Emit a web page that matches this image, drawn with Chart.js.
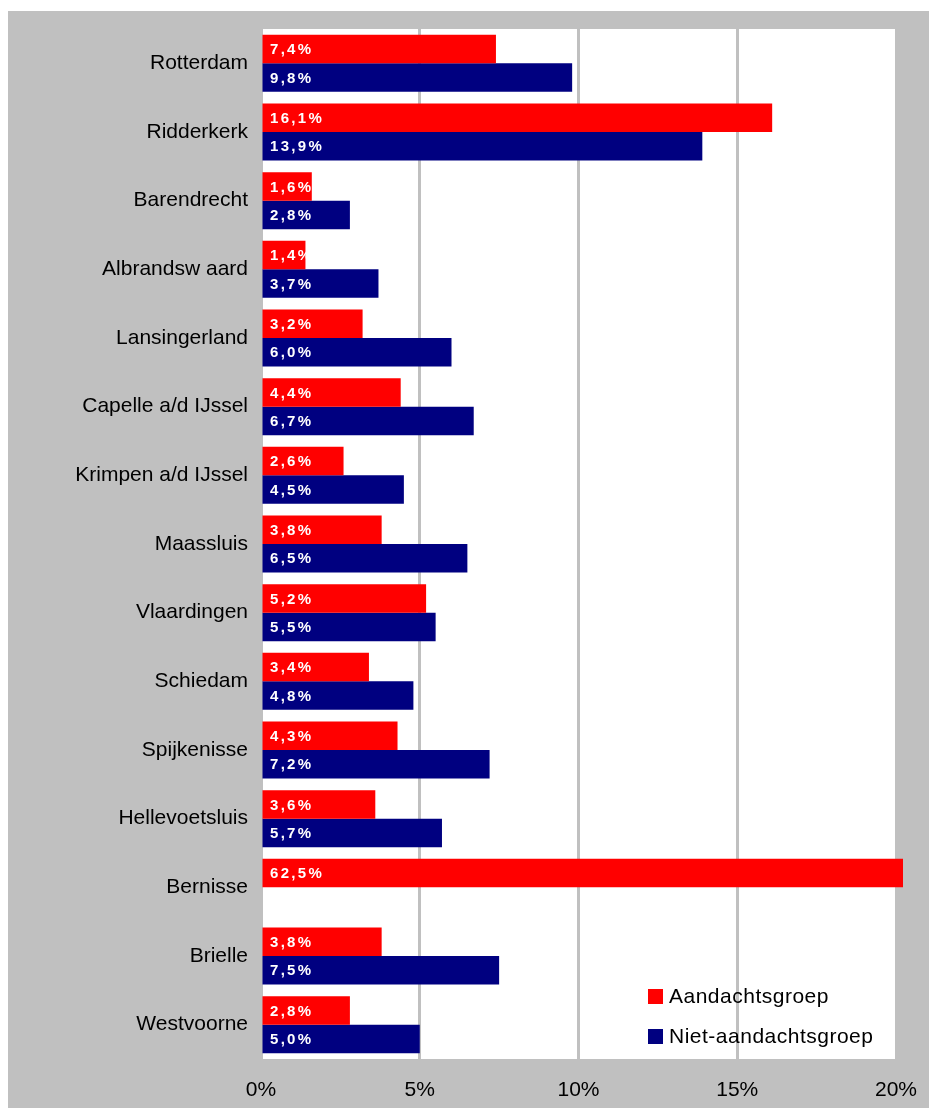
<!DOCTYPE html>
<html>
<head>
<meta charset="utf-8">
<style>
  html, body { margin: 0; padding: 0; background: #ffffff; }
  #wrap { position: relative; width: 929px; height: 1108px; }
  canvas { display: block; }
</style>
<script src="https://cdn.jsdelivr.net/npm/chart.js@4.4.1/dist/chart.umd.min.js"></script>
</head>
<body>
<div id="wrap"><canvas id="chart" width="929" height="1108"></canvas></div>
<script>
// Municipalities (top to bottom)
const categories = [
  'Rotterdam', 'Ridderkerk', 'Barendrecht', 'Albrandsw aard', 'Lansingerland',
  'Capelle a/d IJssel', 'Krimpen a/d IJssel', 'Maassluis', 'Vlaardingen', 'Schiedam',
  'Spijkenisse', 'Hellevoetsluis', 'Bernisse', 'Brielle', 'Westvoorne'
];
// Percentages per group
const aandachtsgroep = [7.4, 16.1, 1.6, 1.4, 3.2, 4.4, 2.6, 3.8, 5.2, 3.4, 4.3, 3.6, 62.5, 3.8, 2.8];
const nietAandachtsgroep = [9.8, 13.9, 2.8, 3.7, 6.0, 6.7, 4.5, 6.5, 5.5, 4.8, 7.2, 5.7, null, 7.5, 5.0];
const seriesNames = ['Aandachtsgroep', 'Niet-aandachtsgroep'];
const seriesColors = ['#FF0000', '#000080'];
const xTicks = [0, 5, 10, 15, 20];

const FONT = '"Liberation Sans", Arial, sans-serif';

// Grey frame behind the chart and white plotting area
const framePlugin = {
  id: 'frame',
  beforeDraw(chart) {
    const { ctx, chartArea: a } = chart;
    ctx.save();
    ctx.fillStyle = '#C0C0C0';
    ctx.fillRect(8, 11, chart.width - 8, chart.height - 11);
    ctx.fillStyle = '#FFFFFF';
    ctx.fillRect(a.left, a.top, a.right - a.left, a.bottom - a.top);
    ctx.restore();
  }
};

// Value labels inside the bars, starting at the zero line
const valueLabelPlugin = {
  id: 'valueLabels',
  afterDatasetsDraw(chart) {
    const { ctx } = chart;
    const x0 = chart.scales.x.getPixelForValue(0);
    ctx.save();
    ctx.font = 'bold 15px ' + FONT;
    ctx.fillStyle = '#FFFFFF';
    ctx.textAlign = 'left';
    ctx.textBaseline = 'middle';
    if ('letterSpacing' in ctx) ctx.letterSpacing = '2.3px';
    chart.data.datasets.forEach((ds, i) => {
      const meta = chart.getDatasetMeta(i);
      meta.data.forEach((bar, j) => {
        const v = ds.data[j];
        if (v === null || v === undefined) return;
        const txt = v.toFixed(1).replace('.', ',') + '%';
        ctx.fillText(txt, x0 + 9, bar.y + 1);
      });
    });
    ctx.restore();
  }
};

// Legend box in the lower right of the plotting area
const legendPlugin = {
  id: 'cornerLegend',
  afterDatasetsDraw(chart) {
    const { ctx } = chart;
    const left = 648, top = 989, rowGap = 40, box = 15;
    ctx.save();
    ctx.font = '21px ' + FONT;
    ctx.textAlign = 'left';
    ctx.textBaseline = 'middle';
    if ('letterSpacing' in ctx) ctx.letterSpacing = '0.5px';
    seriesNames.forEach((name, i) => {
      const y = top + i * rowGap;
      ctx.fillStyle = seriesColors[i];
      ctx.fillRect(left, y, box, box);
      ctx.fillStyle = '#000000';
      ctx.fillText(name, left + 21, y + box / 2 + 1);
    });
    ctx.restore();
  }
};

new Chart(document.getElementById('chart'), {
  type: 'bar',
  data: {
    labels: categories,
    datasets: [
      {
        label: seriesNames[0],
        data: aandachtsgroep,
        backgroundColor: seriesColors[0],
        borderWidth: 0,
        categoryPercentage: 0.83,
        barPercentage: 1.0,
        clip: { left: 0, top: 0, right: 7, bottom: 0 }
      },
      {
        label: seriesNames[1],
        data: nietAandachtsgroep,
        backgroundColor: seriesColors[1],
        borderWidth: 0,
        categoryPercentage: 0.83,
        barPercentage: 1.0,
        clip: { left: 0, top: 0, right: 7, bottom: 0 }
      }
    ]
  },
  options: {
    indexAxis: 'y',
    responsive: false,
    animation: false,
    layout: { padding: { left: 0, right: 33, top: 29, bottom: 0 } },
    plugins: {
      legend: { display: false },
      tooltip: { enabled: false },
      title: { display: false }
    },
    scales: {
      x: {
        min: 0,
        max: 20,
        afterBuildTicks(scale) {
          scale.ticks = xTicks.map(v => ({ value: v }));
        },
        afterFit(scale) {
          scale.height = 49;
          scale.paddingLeft = 0;
          scale.paddingRight = 0;
        },
        grid: {
          color: '#C0C0C0',
          lineWidth: 3,
          drawTicks: false
        },
        border: { display: false },
        ticks: {
          callback: v => v + '%',
          color: '#000000',
          font: { family: FONT, size: 21 },
          padding: 19,
          maxRotation: 0
        }
      },
      y: {
        afterFit(scale) {
          scale.width = 261;
          scale.paddingTop = 0;
          scale.paddingBottom = 0;
        },
        grid: { display: false, drawTicks: false },
        border: { display: false },
        ticks: {
          color: '#000000',
          font: { family: FONT, size: 21 },
          padding: 13
        }
      }
    }
  },
  plugins: [framePlugin, valueLabelPlugin, legendPlugin]
});
</script>
</body>
</html>
